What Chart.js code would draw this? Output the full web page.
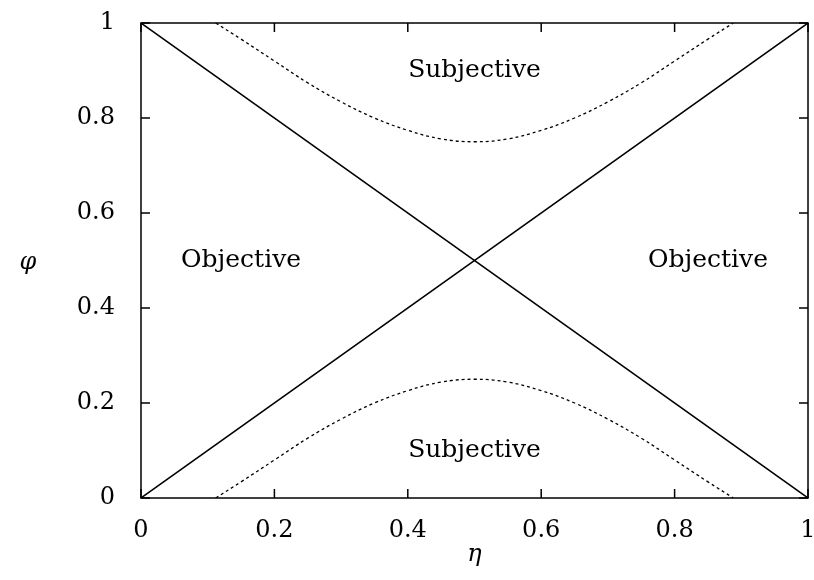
<!DOCTYPE html>
<html>
<head>
<meta charset="utf-8">
<script src="https://cdn.jsdelivr.net/npm/chart.js@4"></script>
<style>
  body { margin: 0; background: #fff; }
  canvas { display: block; }
</style>
</head>
<body>
<canvas id="regionChart" width="814" height="580"></canvas>
<script>
// tick labels
var etaTicks = [0, 0.2, 0.4, 0.6, 0.8, 1];
var phiTicks = [0, 0.2, 0.4, 0.6, 0.8, 1];

// the two diagonals
var diagEta = [0, 1];
var diagUpPhi = [0, 1];
var diagDownPhi = [1, 0];

// dashed boundary curves
var curveEta = [0.112, 0.15, 0.2, 0.25, 0.3, 0.35, 0.4, 0.45, 0.5, 0.55, 0.6, 0.65, 0.7, 0.75, 0.8, 0.85, 0.888];
var lowerPhi = [0, 0.034, 0.080, 0.126, 0.166, 0.200, 0.226, 0.244, 0.25, 0.244, 0.226, 0.200, 0.166, 0.126, 0.080, 0.034, 0];
var upperPhi = [1, 0.966, 0.920, 0.874, 0.834, 0.800, 0.774, 0.756, 0.75, 0.756, 0.774, 0.800, 0.834, 0.874, 0.920, 0.966, 1];

// region labels
var regionNames = ['Subjective', 'Subjective', 'Objective', 'Objective'];
var regionEta = [0.5, 0.5, 0.15, 0.85];
var regionPhi = [0.9, 0.1, 0.5, 0.5];

function pts(xs, ys) {
    return xs.map(function (x, i) { return { x: x, y: ys[i] }; });
}

var serif = '"DejaVu Serif", serif';

var frame = {
    id: 'frame',
    afterDraw: function (chart) {
        var c = chart.ctx, a = chart.chartArea;
        var xs = chart.scales.x, ys = chart.scales.y;
        c.save();
        c.strokeStyle = '#000';
        c.lineWidth = 1.5;
        c.strokeRect(a.left, a.top, a.right - a.left, a.bottom - a.top);
        c.beginPath();
        etaTicks.forEach(function (v) {
            var px = xs.getPixelForValue(v);
            c.moveTo(px, a.bottom); c.lineTo(px, a.bottom - 9);
            c.moveTo(px, a.top); c.lineTo(px, a.top + 9);
        });
        phiTicks.forEach(function (v) {
            var py = ys.getPixelForValue(v);
            c.moveTo(a.left, py); c.lineTo(a.left + 9, py);
            c.moveTo(a.right, py); c.lineTo(a.right - 9, py);
        });
        c.stroke();

        c.fillStyle = '#000';
        c.textAlign = 'center';
        c.textBaseline = 'middle';
        c.font = '25px ' + serif;
        regionNames.forEach(function (t, i) {
            c.fillText(t, xs.getPixelForValue(regionEta[i]), ys.getPixelForValue(regionPhi[i]));
        });
        c.font = 'italic 24px ' + serif;
        c.fillText('\u03B7', (a.left + a.right) / 2, 555);
        c.fillText('\u03C6', 28, (a.top + a.bottom) / 2 + 2);
        c.restore();
    }
};

var ctx = document.getElementById('regionChart').getContext('2d');
var chart = new Chart(ctx, {
    type: 'scatter',
    data: {
        datasets: [
            { data: pts(diagEta, diagUpPhi), showLine: true, borderColor: '#000', borderWidth: 1.5, pointRadius: 0 },
            { data: pts(diagEta, diagDownPhi), showLine: true, borderColor: '#000', borderWidth: 1.5, pointRadius: 0 },
            { data: pts(curveEta, lowerPhi), showLine: true, borderColor: '#000', borderWidth: 1.3, borderDash: [3, 3], pointRadius: 0, tension: 0.4 },
            { data: pts(curveEta, upperPhi), showLine: true, borderColor: '#000', borderWidth: 1.3, borderDash: [3, 3], pointRadius: 0, tension: 0.4 }
        ]
    },
    options: {
        responsive: false,
        animation: false,
        layout: { padding: { top: 23, right: 6, left: 0, bottom: 0 } },
        plugins: { legend: { display: false }, tooltip: { enabled: false } },
        scales: {
            x: {
                type: 'linear', min: 0, max: 1,
                afterBuildTicks: function (s) { s.ticks = etaTicks.map(function (v) { return { value: v }; }); },
                afterFit: function (s) { s.height = 82; s.paddingLeft = 0; s.paddingRight = 0; },
                grid: { display: false },
                border: { display: false },
                ticks: { color: '#000', padding: 10, maxRotation: 0, font: { family: serif, size: 24 },
                         callback: function (v) { return String(v); } }
            },
            y: {
                type: 'linear', min: 0, max: 1,
                afterBuildTicks: function (s) { s.ticks = phiTicks.map(function (v) { return { value: v }; }); },
                afterFit: function (s) { s.width = 141; s.paddingTop = 0; s.paddingBottom = 0; },
                grid: { display: false },
                border: { display: false },
                ticks: { color: '#000', padding: 18, font: { family: serif, size: 24 },
                         callback: function (v) { return String(v); } }
            }
        }
    },
    plugins: [frame]
});
</script>
</body>
</html>
